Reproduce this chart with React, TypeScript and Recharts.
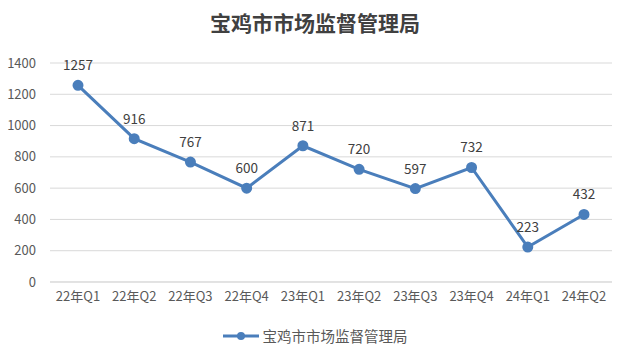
import { LineChart, Line, XAxis, YAxis, CartesianGrid, Legend, LabelList } from 'recharts';

const quarters = ['22年Q1', '22年Q2', '22年Q3', '22年Q4', '23年Q1', '23年Q2', '23年Q3', '23年Q4', '24年Q1', '24年Q2'];
const counts = [1257, 916, 767, 600, 871, 720, 597, 732, 223, 432];
const yTicks = [0, 200, 400, 600, 800, 1000, 1200, 1400];
const seriesName = '宝鸡市市场监督管理局';

const data = quarters.map((q, i) => ({ q, v: counts[i] }));

const font = '"Noto Sans CJK SC", "Noto Sans", sans-serif';
const blue = '#4a7ebb';

const LegendItem = () => (
  <div style={{ display: 'flex', justifyContent: 'center', alignItems: 'center', fontSize: 14.5, color: '#595959', fontFamily: font }}>
    <svg width={36} height={12} style={{ marginRight: 4 }}>
      <line x1={0} y1={6} x2={36} y2={6} stroke={blue} strokeWidth={3} />
      <circle cx={18} cy={6} r={4} fill={blue} />
    </svg>
    <span>{seriesName}</span>
  </div>
);

export default function App() {
  return (
    <div style={{ position: 'absolute', left: 0, top: 0, width: 630, height: 358, background: '#fff', fontFamily: font }}>
      <div style={{ position: 'absolute', top: 7, left: 0, width: 630, textAlign: 'center', fontSize: 21, fontWeight: 700, color: '#404040' }}>
        {seriesName}
      </div>
      <LineChart width={630} height={358} data={data} margin={{ top: 63, right: 18, bottom: 0, left: 0 }}>
        <CartesianGrid horizontal vertical={false} stroke="#d9d9d9" />
        <XAxis
          dataKey="q"
          axisLine={{ stroke: '#d9d9d9' }}
          tickLine={false}
          height={24}
          tickMargin={4}
          padding={{ left: 28, right: 28 }}
          tick={{ fill: '#595959', fontSize: 13, fontFamily: font }}
          interval={0}
        />
        <YAxis
          width={50}
          domain={[0, 1400]}
          ticks={yTicks}
          axisLine={false}
          tickLine={false}
          tickMargin={8}
          tick={{ fill: '#595959', fontSize: 13, fontFamily: font }}
        />
        <Legend
          verticalAlign="bottom"
          height={52}
          content={() => <LegendItem />}
          wrapperStyle={{ top: 325, left: 0, width: 630 }}
        />
        <Line
          name={seriesName}
          dataKey="v"
          stroke={blue}
          strokeWidth={3}
          dot={{ r: 4, fill: blue, stroke: blue }}
          isAnimationActive={false}
        >
          <LabelList dataKey="v" position="top" offset={15} style={{ fill: '#404040', fontSize: 13.5, fontFamily: font }} />
        </Line>
      </LineChart>
    </div>
  );
}
